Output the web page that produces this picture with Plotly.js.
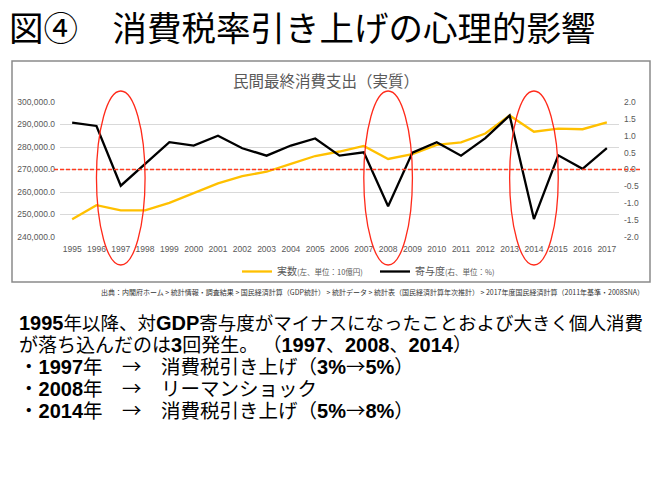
<!DOCTYPE html>
<html>
<head>
<meta charset="utf-8">
<script src="https://cdn.plot.ly/plotly-3.0.1.min.js"></script>
<style>
html,body{margin:0;padding:0;background:#fff;}
#chart{width:660px;height:495px;}
</style>
</head>
<body>
<div id="chart"></div>
<script>
// ---- data ----
const years = [1995,1996,1997,1998,1999,2000,2001,2002,2003,2004,2005,2006,2007,2008,2009,2010,2011,2012,2013,2014,2015,2016,2017];
const realConsumption = [247900,254150,251800,251800,255200,259400,263800,267100,269000,272500,276000,278000,280500,274700,276800,280900,282100,286000,294000,286800,288200,287900,290900];
const contribution = [1.39,1.29,-0.48,0.18,0.81,0.71,1.00,0.63,0.41,0.71,0.92,0.41,0.51,-1.09,0.50,0.81,0.41,0.93,1.60,-1.47,0.42,0.02,0.63];
const leftTicks = [240000,250000,260000,270000,280000,290000,300000];
const rightTicks = [-2.0,-1.5,-1.0,-0.5,0.0,0.5,1.0,1.5,2.0];
const rightTickLabels = rightTicks.map(v => v.toFixed(1));
const highlightYears = [1997,2008,2014];
const seriesNames = ['実数<span style="font-size:7.5px">(左、単位：10億円)</span>', '寄与度<span style="font-size:7.5px">(右、単位：%)</span>'];
const slideTitle = '図④　消費税率引き上げの心理的影響';
const chartTitle = '民間最終消費支出（実質）';
const sourceText = '出典：内閣府ホーム > 統計情報・調査結果 > 国民経済計算（GDP統計） > 統計データ > 統計表（国民経済計算年次推計） > 2017年度国民経済計算（2011年基準・2008SNA）';
const bodyLines = [
  '{1995}年以降、対{GDP}寄与度がマイナスになったことおよび大きく個人消費',
  'が落ち込んだのは{3}回発生。 （{1997}、{2008}、{2014}）',
  '・{1997}年　→　消費税引き上げ（{3%}→{5%}）',
  '・{2008}年　→　リーマンショック',
  '・{2014}年　→　消費税引き上げ（{5%}→{8%}）'
];
const bodyLineSizes = [18.5, 19, 19.5, 19.5, 19.5];

// ---- layout geometry ----
const Wd = 660, Hd = 495;
const M = {l:60, r:41, t:102, b:258};
const PW = Wd - M.l - M.r, PH = Hd - M.t - M.b;
const px2x = p => (p - M.l) / PW;
const py2y = p => (Hd - M.b - p) / PH;

const jp = '"Noto Sans CJK JP", "Noto Sans", sans-serif';
const lat = '"Liberation Sans", "Noto Sans CJK JP", sans-serif';
// Latin runs in the body text: bold Arial-like, slightly larger
const styleLatin = s => s.replace(/\{([^}]*)\}/g,
  '<span style="font-family:Liberation Sans;font-size:20px"><b>$1</b></span>');
const bodyText = bodyLines.map((t, i) =>
  '<span style="font-size:' + bodyLineSizes[i] + 'px">' + styleLatin(t) + '</span>').join('<br>');

const traces = [
  {x: years, y: realConsumption, name: seriesNames[0], type: 'scatter', mode: 'lines',
   line: {color: '#FFC000', width: 2.3}, yaxis: 'y'},
  {x: years, y: contribution, name: seriesNames[1], type: 'scatter', mode: 'lines',
   line: {color: '#000000', width: 2.3}, yaxis: 'y2'}
];

const shapes = [
  {type: 'rect', xref: 'paper', yref: 'paper', x0: px2x(12), x1: px2x(650), y0: py2y(282), y1: py2y(61),
   line: {color: '#8a8a8a', width: 1.5}, fillcolor: 'rgba(0,0,0,0)', layer: 'below'},
  {type: 'line', xref: 'paper', yref: 'y2', x0: px2x(54), x1: px2x(640), y0: 0, y1: 0,
   line: {color: '#ff3b1f', width: 1.5, dash: '4px,2px'}}
];
highlightYears.forEach(yr => {
  shapes.push({type: 'circle', xref: 'x', yref: 'paper', x0: yr - 1, x1: yr + 1,
    y0: py2y(265), y1: py2y(91), line: {color: '#ff2a1a', width: 1.3}, fillcolor: 'rgba(0,0,0,0)'});
});

const annotations = [
  {text: slideTitle, xref: 'paper', yref: 'paper', x: px2x(7), y: py2y(26), xanchor: 'left', yanchor: 'middle',
   showarrow: false, font: {family: jp, size: 34.5, color: '#000'}},
  {text: chartTitle, xref: 'paper', yref: 'paper', x: px2x(326), y: py2y(80), xanchor: 'center', yanchor: 'middle',
   showarrow: false, font: {family: jp, size: 15.5, color: '#595959'}},
  {text: sourceText, xref: 'paper', yref: 'paper', x: px2x(372), y: py2y(292), xanchor: 'center', yanchor: 'middle',
   showarrow: false, font: {family: jp, size: 7.0, color: '#333'}},
  {text: bodyText, xref: 'paper', yref: 'paper', x: px2x(17), y: py2y(366), xanchor: 'left', yanchor: 'middle',
   align: 'left', showarrow: false, font: {family: jp, size: 17, color: '#000'}}
];

const layout = {
  width: Wd, height: Hd,
  margin: M,
  paper_bgcolor: '#fff', plot_bgcolor: 'rgba(0,0,0,0)',
  showlegend: true,
  legend: {orientation: 'h', x: px2x(237), xanchor: 'left', y: py2y(257), yanchor: 'top',
           font: {family: jp, size: 10, color: '#595959'}, entrywidth: 93, entrywidthmode: 'pixels',
           itemwidth: 30, bgcolor: 'rgba(0,0,0,0)', traceorder: 'normal'},
  xaxis: {type: 'linear', range: [years[0] - 0.5, years[years.length - 1] + 0.5], tickvals: years,
          ticktext: years.map(String), showgrid: false, zeroline: false, showline: false, ticks: '',
          tickfont: {family: lat, size: 8.5, color: '#595959'}, ticklabelstandoff: 5, fixedrange: true},
  yaxis: {range: [leftTicks[0], leftTicks[leftTicks.length - 1]], tickvals: leftTicks, tickformat: ',.1f',
          showgrid: true, gridcolor: '#d9d9d9', gridwidth: 1, zeroline: false, showline: false, ticks: '',
          tickfont: {family: lat, size: 8.5, color: '#595959'}, ticklabelstandoff: 4},
  yaxis2: {overlaying: 'y', side: 'right', range: [rightTicks[0], rightTicks[rightTicks.length - 1]],
           tickvals: rightTicks, ticktext: rightTickLabels, showgrid: false, zeroline: false, showline: false,
           ticks: '', tickfont: {family: lat, size: 8.5, color: '#595959'}, ticklabelstandoff: 4},
  shapes: shapes,
  annotations: annotations
};

Plotly.newPlot('chart', traces, layout, {displayModeBar: false, staticPlot: true});
</script>
</body>
</html>
